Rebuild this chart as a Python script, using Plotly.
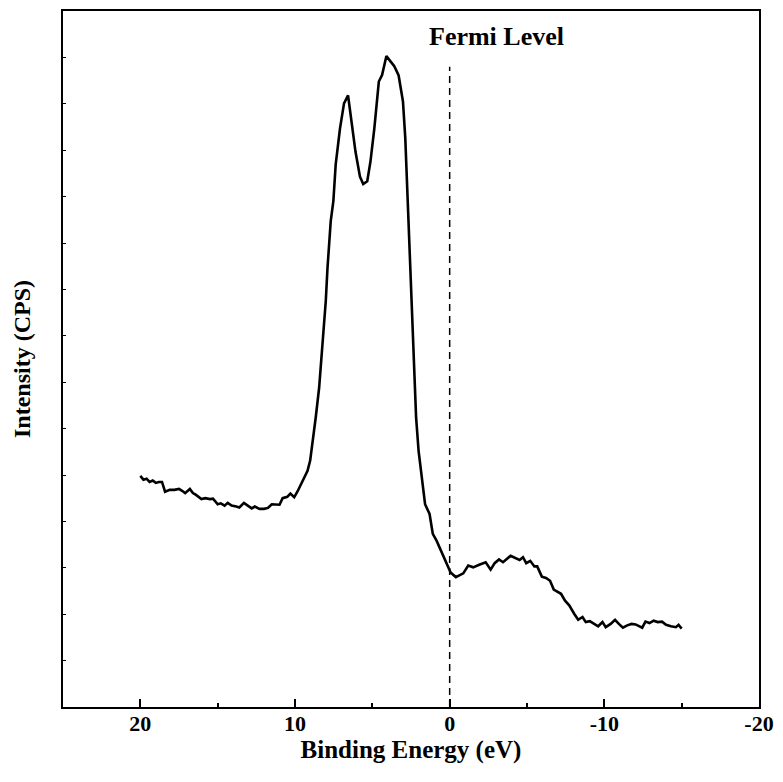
import plotly.graph_objects as go

energy = [20.0, 19.8, 19.6, 19.4, 19.2, 19.0, 18.8, 18.6, 18.4, 18.1, 17.8, 17.5, 17.3, 17.1, 16.8, 16.6, 16.4,
          16.05, 15.8, 15.5, 15.3, 15.0, 14.8, 14.55, 14.35, 14.1, 13.8, 13.6, 13.3, 13.05, 12.8, 12.6, 12.3,
          12.0, 11.75, 11.5, 11.2, 11.0, 10.8, 10.5, 10.3, 10.05, 9.83, 9.62, 9.40, 9.19, 9.02, 8.82, 8.66,
          8.44, 8.34, 8.16, 8.01, 7.90, 7.80, 7.69, 7.52, 7.37, 7.09, 6.83, 6.57, 6.36, 6.09, 5.80, 5.59,
          5.33, 5.12, 4.87, 4.58, 4.37, 4.09, 3.84, 3.58, 3.30, 3.02, 2.87, 2.76, 2.72, 2.55, 2.44, 2.33,
          2.17, 2.01, 1.80, 1.59, 1.30, 1.09, 0.84, 0.51, 0.19, -0.06, -0.40, -0.66, -0.88, -1.20, -1.52,
          -1.95, -2.33, -2.65, -2.91, -3.19, -3.45, -3.94, -4.26, -4.52, -4.74, -4.95, -5.21, -5.48, -5.66,
          -5.96, -6.23, -6.49, -6.73, -6.99, -7.20, -7.46, -7.73, -8.05, -8.31, -8.59, -8.80, -9.06, -9.34,
          -9.60, -9.88, -10.09, -10.41, -10.69, -10.94, -11.20, -11.48, -11.76, -12.02, -12.45, -12.66,
          -12.92, -13.19, -13.45, -13.73, -13.99, -14.31, -14.63, -14.80, -15.0]
intensity = [4.98, 4.90, 4.92, 4.85, 4.88, 4.83, 4.85, 4.85, 4.64, 4.68, 4.68, 4.70, 4.66, 4.61, 4.70, 4.61, 4.57,
             4.48, 4.50, 4.48, 4.49, 4.37, 4.39, 4.34, 4.40, 4.34, 4.32, 4.30, 4.40, 4.34, 4.28, 4.32, 4.27,
             4.27, 4.29, 4.37, 4.37, 4.36, 4.50, 4.53, 4.60, 4.52, 4.65, 4.80, 4.95, 5.09, 5.31, 5.77, 6.24,
             6.88, 7.31, 8.04, 8.75, 9.46, 9.97, 10.47, 10.90, 11.69, 12.47, 13.01, 13.18, 12.69, 11.97, 11.43, 11.27,
             11.33, 11.76, 12.47, 13.48, 13.62, 14.03, 13.92, 13.81, 13.61, 13.05, 12.26, 11.33, 10.90, 9.46, 8.39, 7.31,
             6.24, 5.52, 4.88, 4.37, 4.16, 3.73, 3.58, 3.33, 3.08, 2.90, 2.80, 2.85, 2.88, 3.05, 3.01,
             3.07, 3.12, 2.96, 3.10, 3.18, 3.12, 3.26, 3.21, 3.17, 3.23, 3.10, 3.15, 3.03, 3.03,
             2.81, 2.78, 2.72, 2.53, 2.47, 2.44, 2.29, 2.19, 2.01, 1.88, 1.94, 1.83, 1.85, 1.79,
             1.74, 1.83, 1.72, 1.79, 1.88, 1.79, 1.71, 1.76, 1.79, 1.78, 1.71, 1.84,
             1.81, 1.86, 1.83, 1.84, 1.77, 1.74, 1.72, 1.77, 1.69]

fermi_x = [0, 0]
fermi_y = [0, 13.8]
x_ticks = [20, 10, 0, -10, -20]

font = "Liberation Serif"

fig = go.Figure()
fig.add_trace(go.Scatter(x=fermi_x, y=fermi_y, mode="lines",
                         line=dict(color="black", width=1.5, dash="7px,5px"), hoverinfo="skip"))
fig.add_trace(go.Scatter(x=energy, y=intensity, mode="lines",
                         line=dict(color="black", width=2.6)))

fig.add_annotation(x=-3.0, y=14.45, text="<b>Fermi Level</b>", showarrow=False,
                   font=dict(family=font, size=26, color="black"), xanchor="center", yanchor="middle")

fig.update_layout(
    width=783, height=782,
    margin=dict(l=63, r=20, t=9, b=75),
    paper_bgcolor="white", plot_bgcolor="white",
    showlegend=False,
    font=dict(family=font, color="black"),
    xaxis=dict(range=[25, -20], tickvals=x_ticks, ticktext=[str(v) for v in x_ticks],
               ticks="inside", ticklen=8, tickwidth=1.5, tickcolor="black",
               minor=dict(dtick=5, tick0=0, ticks="inside", ticklen=4, tickwidth=1.5, tickcolor="black"),
               showline=True, linecolor="black", linewidth=2, mirror=True,
               showgrid=False, zeroline=False, ticklabelstandoff=-4,
               tickfont=dict(family=font, size=22, color="black", weight="bold"),
               title=dict(text="<b>Binding Energy (eV)</b>", font=dict(family=font, size=25, color="black"),
                          standoff=2)),
    yaxis=dict(range=[0, 15], dtick=1, tick0=0, showticklabels=False,
               ticks="inside", ticklen=3, tickwidth=1, tickcolor="black",
               showline=True, linecolor="black", linewidth=2, mirror=True,
               showgrid=False, zeroline=False,
               title=dict(text="<b>Intensity (CPS)</b>", font=dict(family=font, size=24, color="black"),
                          standoff=24)),
)

fig.write_html("out.html")
